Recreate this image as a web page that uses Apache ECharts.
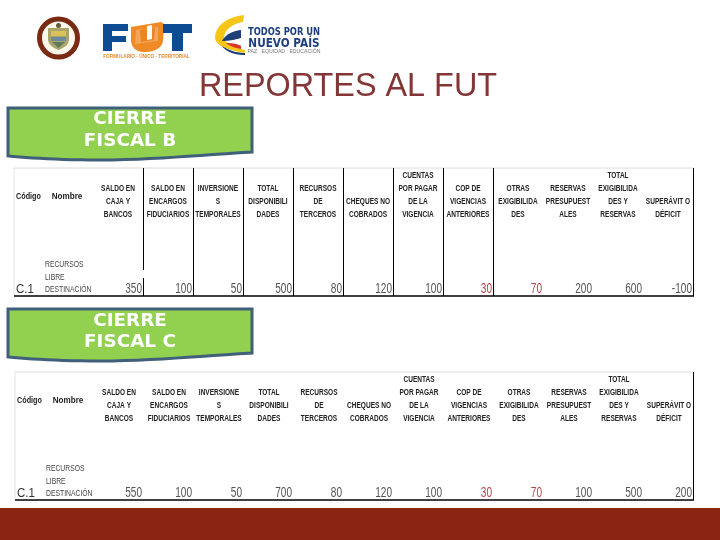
<!DOCTYPE html>
<html>
<head>
<meta charset="utf-8">
<style>html,body{margin:0;padding:0;background:#fff}#main{width:720px;height:540px}</style>
<script src="https://cdn.jsdelivr.net/npm/echarts@6/dist/echarts.min.js"></script>
</head>
<body>
<div id="main"></div>
<script>
// table content
let slideTitle = 'REPORTES AL FUT';
let labelB = ['CIERRE', 'FISCAL B'];
let labelC = ['CIERRE', 'FISCAL C'];
let rowCode = 'C.1';
let rowName = ['RECURSOS', 'LIBRE', 'DESTINACIÓN'];
let headers = [
    ['SALDO EN', 'CAJA Y', 'BANCOS'],
    ['SALDO EN', 'ENCARGOS', 'FIDUCIARIOS'],
    ['INVERSIONE', 'S', 'TEMPORALES'],
    ['TOTAL', 'DISPONIBILI', 'DADES'],
    ['RECURSOS', 'DE', 'TERCEROS'],
    ['CHEQUES NO', 'COBRADOS'],
    ['CUENTAS', 'POR PAGAR', 'DE LA', 'VIGENCIA'],
    ['COP DE', 'VIGENCIAS', 'ANTERIORES'],
    ['OTRAS', 'EXIGIBILIDA', 'DES'],
    ['RESERVAS', 'PRESUPUEST', 'ALES'],
    ['TOTAL', 'EXIGIBILIDA', 'DES Y', 'RESERVAS'],
    ['SUPERÁVIT O', 'DÉFICIT']
];
let valuesB = [350, 100, 50, 500, 80, 120, 100, 30, 70, 200, 600, -100];
let valuesC = [550, 100, 50, 700, 80, 120, 100, 30, 70, 100, 500, 200];
let redColumns = [7, 8];

let chart = echarts.init(document.getElementById('main'));
let els = [];
const FONT = 'Liberation Sans';

function text(str, x, y, size, color, opt) {
    opt = opt || {};
    els.push({
        type: 'text', x: x, y: y + 1.5, scaleX: opt.sx || 1, silent: true,
        style: {
            text: str, x: 0, y: 0, fill: color, fontSize: size,
            fontFamily: opt.font || FONT, fontWeight: opt.bold ? 'bold' : 'normal',
            textAlign: opt.align || 'center', textVerticalAlign: 'middle'
        }
    });
}
function rect(x, y, w, h, fill) {
    els.push({type: 'rect', silent: true, shape: {x: x, y: y, width: w, height: h}, style: {fill: fill}});
}
function line(x1, y1, x2, y2, color, w) {
    els.push({type: 'line', silent: true, shape: {x1: x1, y1: y1, x2: x2, y2: y2}, style: {stroke: color, lineWidth: w}});
}
function poly(points, fill, stroke, lw) {
    els.push({type: 'polygon', silent: true, shape: {points: points}, style: {fill: fill, stroke: stroke || null, lineWidth: lw || 0}});
}
// outline made of points [x,y] and cubic segments [c1x,c1y,c2x,c2y,x,y], flattened for a polygon
function curve(segs, fill, stroke, lw) {
    let pts = [];
    segs.forEach(function (s) {
        if (s.length === 2) {
            pts.push(s);
            return;
        }
        let p = pts[pts.length - 1];
        for (let i = 1; i <= 12; i++) {
            let t = i / 12, u = 1 - t;
            pts.push([
                u * u * u * p[0] + 3 * u * u * t * s[0] + 3 * u * t * t * s[2] + t * t * t * s[4],
                u * u * u * p[1] + 3 * u * u * t * s[1] + 3 * u * t * t * s[3] + t * t * t * s[5]
            ]);
        }
    });
    poly(pts, fill, stroke, lw);
}
function circle(cx, cy, r, fill, stroke, lw) {
    els.push({type: 'circle', silent: true, shape: {cx: cx, cy: cy, r: r}, style: {fill: fill, stroke: stroke || null, lineWidth: lw || 0}});
}

function drawLabel(lines, top, y1, y2) {
    curve([[8, top], [252, top], [252, top + 44],
        [200, top + 47, 150, top + 52, 100, top + 52],
        [60, top + 52, 30, top + 50, 8, top + 48]], '#92D050', '#3F5F7A', 3);
    text(lines[0], 130, y1, 17, '#fff', {font: 'DejaVu Sans', bold: true, sx: 1.08});
    text(lines[1], 130, y2, 17, '#fff', {font: 'DejaVu Sans', bold: true, sx: 1.08});
}

function drawTable(values, top, left, dx, innerLines) {
    let bottom = top + 128;
    line(left, top, 693, top, '#dcdcdc', 1);
    line(left, top, left, bottom, '#e4e4e4', 1);
    line(693.5, top, 693.5, bottom, '#000', 1);
    line(left, bottom, 694, bottom, '#000', 1.5);
    if (innerLines) {
        [143, 193, 243, 293, 343, 393, 443, 493].forEach(function (x, i) {
            if (i === 0) {
                line(x + 0.5, top, x + 0.5, top + 102, '#000', 1);
                line(x + 0.5, top + 110, x + 0.5, bottom, '#000', 1);
            } else {
                line(x + 0.5, top, x + 0.5, bottom, '#000', 1);
            }
        });
    }
    let headBottom = top + 45;
    text('Código', 28.5 + dx, top + 27, 9, '#222', {bold: true, sx: 0.8});
    text('Nombre', 67 + dx, top + 27, 9, '#222', {bold: true, sx: 0.9});
    headers.forEach(function (lines, c) {
        let cx = 118 + c * 50 + dx;
        lines.forEach(function (s, i) {
            text(s, cx, headBottom - (lines.length - 1 - i) * 13, 8.5, '#222', {bold: true, sx: 0.77});
        });
    });
    rowName.forEach(function (s, i) {
        text(s, 45 + dx, top + 95 + i * 12.7, 8.5, '#444', {align: 'left', sx: 0.8});
    });
    text(rowCode, 16 + dx, top + 120, 13.5, '#333', {align: 'left', sx: 0.85});
    values.forEach(function (v, c) {
        let red = redColumns.indexOf(c) >= 0;
        text(String(v), 142 + c * 50, top + 120, 14, red ? '#B8434A' : '#555', {align: 'right', sx: 0.72});
    });
}

// coat of arms
circle(58.5, 38, 19, '#FBF7EA', '#7A2A12', 5);
curve([[48, 28], [69, 28], [69, 40], [68, 46, 63, 48, 58.5, 50], [54, 48, 49, 46, 48, 40]], '#A9A46A');
rect(51, 31, 15, 5, '#D9C25A');
rect(51, 37, 15, 4, '#6D8A9E');
poly([[52, 42], [65, 42], [58.5, 48]], '#5F7A5A');
circle(58.5, 25.5, 2.5, '#6B5A3A');

// FUT logo
poly([[103, 24], [128, 24], [128, 31], [112, 31], [112, 36], [126, 36], [126, 42], [112, 42], [112, 51], [103, 51]], '#0D4C92');
curve([[131, 27], [161, 22], [164, 24], [163, 41], [162, 48, 154, 52, 145, 52], [136, 52, 132, 48, 131, 41]], '#F08A24');
poly([[136, 30], [158, 27], [158, 41], [135, 44]], '#F4A55C');
poly([[140, 30], [155, 28], [154, 40], [141, 42]], '#EE8420');
poly([[147, 26], [152, 25], [152, 39], [147, 40]], '#fff');
poly([[163, 24], [192, 24], [192, 33], [183, 33], [183, 51], [172, 51], [172, 33], [163, 33]], '#0D4C92');
text('FORMULARIO · ÚNICO · TERRITORIAL', 146.5, 55, 6, '#E8892B', {bold: true, sx: 0.78});

// Todos por un nuevo pais swoosh
curve([[244, 15], [225, 17, 215, 27, 215, 38], [216, 46, 228, 50, 245, 53], [245, 50], [235, 48, 226, 44, 224, 38], [224, 30, 232, 24, 243, 22]], '#F5C518');
curve([[241, 30], [232, 31, 225, 35, 222, 41], [228, 41, 234, 40, 241, 38]], '#1F3F78');
curve([[226, 43], [232, 43, 238, 44, 241, 46], [241, 49], [235, 48, 230, 46, 226, 43]], '#D9352A');
curve([[222, 46], [230, 51, 238, 53, 245, 53], [245, 55], [235, 55, 226, 52, 222, 46]], '#1F3F78');
text('TODOS POR UN', 284, 30.5, 10.2, '#1C3F7C', {font: 'DejaVu Sans', bold: true, sx: 0.82});
text('NUEVO PAÍS', 284, 42, 12.8, '#1C3F7C', {font: 'DejaVu Sans', bold: true, sx: 0.82});
text('PAZ   EQUIDAD   EDUCACIÓN', 284, 50.5, 4.5, '#777', {sx: 1.15});

// title
text(slideTitle, 348, 86, 32.4, '#843535', {});

drawLabel(labelB, 108, 118, 140);
drawTable(valuesB, 168, 14, 0, true);
drawLabel(labelC, 309, 320.5, 341.5);
drawTable(valuesC, 372, 15, 1, false);

// footer band
rect(0, 508, 720, 32, '#8A2413');

chart.setOption({
    animation: false,
    backgroundColor: '#fff',
    graphic: {elements: els}
});
</script>
</body>
</html>
